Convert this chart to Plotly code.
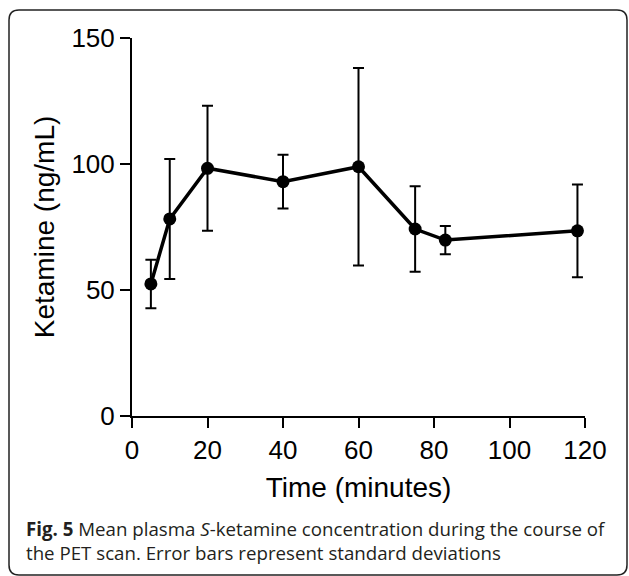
import plotly.graph_objects as go

time_min = [5, 10, 20, 40, 60, 75, 83, 118]
ketamine_mean = [52.4, 78.2, 98.3, 93.0, 98.9, 74.2, 69.8, 73.5]
ketamine_sd = [9.6, 23.8, 24.8, 10.7, 39.2, 17.0, 5.6, 18.4]

x_ticks = [0, 20, 40, 60, 80, 100, 120]
y_ticks = [0, 50, 100, 150]

W, H = 629, 576
L, R, T, B = 132, 44, 38, 160
pw, ph = W - L - R, H - T - B

def px(x):
    return (x - L) / pw

def py(y):
    return (H - B - y) / ph

fig = go.Figure()
fig.add_trace(go.Scatter(
    x=time_min, y=ketamine_mean,
    mode="lines+markers",
    line=dict(color="black", width=3.5),
    marker=dict(color="black", size=13),
    error_y=dict(type="data", array=ketamine_sd, visible=True,
                 color="black", thickness=2, width=5.5),
    cliponaxis=False,
    showlegend=False,
))

fam = "Liberation Sans, Arial, sans-serif"
axis_font = dict(family=fam, size=26, color="black")
fig.update_xaxes(
    range=[0, 120], tickvals=x_ticks, ticks="outside", ticklen=10, tickwidth=2,
    tickcolor="black", showline=True, linecolor="black", linewidth=2,
    showgrid=False, zeroline=False, tickfont=axis_font,
    title=dict(text="Time (minutes)", font=dict(family=fam, size=28, color="black"), standoff=13),
)
fig.update_yaxes(
    range=[0, 150], tickvals=y_ticks, ticks="outside", ticklen=10, tickwidth=2,
    tickcolor="black", showline=True, linecolor="black", linewidth=2,
    showgrid=False, zeroline=False, tickfont=axis_font,
    title=dict(text="Ketamine (ng/mL)", font=dict(family=fam, size=28, color="black"), standoff=9),
)

# rounded border frame
x0, x1 = px(9), px(627)
y0, y1 = py(575), py(10)
rx, ry = 10 / pw, 10 / ph
path = (f"M {x0+rx},{y1} L {x1-rx},{y1} Q {x1},{y1} {x1},{y1-ry} "
        f"L {x1},{y0+ry} Q {x1},{y0} {x1-rx},{y0} L {x0+rx},{y0} "
        f"Q {x0},{y0} {x0},{y0+ry} L {x0},{y1-ry} Q {x0},{y1} {x0+rx},{y1} Z")
fig.add_shape(type="path", path=path, xref="paper", yref="paper",
              line=dict(color="#222222", width=1.5), layer="below")

cap_font = dict(family="Open Sans, sans-serif", size=18.7, color="#231f20")
fig.add_annotation(text=("<b>Fig. 5</b> Mean plasma <i>S</i>-ketamine concentration during the course of"
                         "<br>the PET scan. Error bars represent standard deviations"),
                   x=px(24), y=py(540), xref="paper", yref="paper",
                   xanchor="left", yanchor="middle", align="left",
                   showarrow=False, font=cap_font)

fig.update_layout(
    width=W, height=H,
    margin=dict(l=L, r=R, t=T, b=B, autoexpand=False),
    paper_bgcolor="white", plot_bgcolor="white",
)
fig.write_html("out.html")
